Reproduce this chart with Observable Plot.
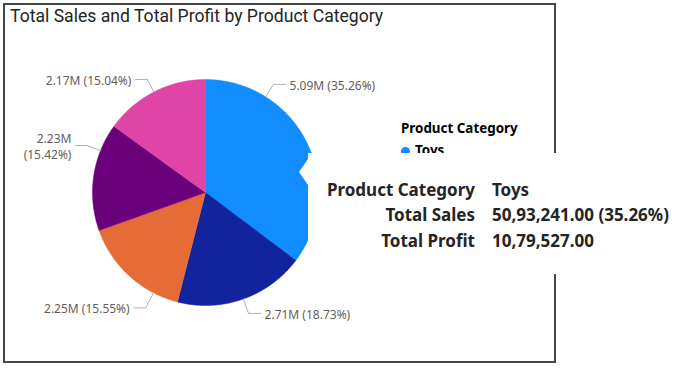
<!DOCTYPE html>
<html>
<head>
<meta charset="utf-8">
<script src="https://cdn.jsdelivr.net/npm/d3@7"></script>
<script src="https://cdn.jsdelivr.net/npm/@observablehq/plot@0.6"></script>
<style>
  html, body { margin: 0; padding: 0; background: #fff; }
  #wrap { position: relative; width: 682px; height: 368px; overflow: hidden; font-family: "Segoe UI", "Noto Sans", sans-serif; color: #252423; }
  #frame { position: absolute; left: 3px; top: 3px; width: 553px; height: 360px; box-sizing: border-box; border: 2px solid #474747; }
  #chart { position: absolute; left: 0; top: 0; }
  #title { position: absolute; left: 10px; top: 6px; font-family: Roboto, sans-serif; font-size: 17.6px; line-height: 20px; color: #252423; white-space: nowrap; }
  #legend { position: absolute; left: 401px; top: 120px; font-family: "Noto Sans", sans-serif; }
  #legend .lt { font-size: 13.4px; font-weight: 700; line-height: 16px; color: #000; white-space: nowrap; }
  #legend .li { position: absolute; top: 22px; left: 0; font-size: 13.4px; font-weight: 700; line-height: 16px; white-space: nowrap; color: #000; }
  #legend .dot { display: inline-block; width: 9px; height: 9px; border-radius: 50%; margin-right: 5px; vertical-align: -1px; }
  #tip { position: absolute; left: 308px; top: 153px; width: 380px; height: 121px; background: #fff; font-family: "Noto Sans", sans-serif; font-weight: 700; font-size: 17px; color: #252423; }
  #tipArrow { position: absolute; left: 299px; top: 159px; width: 0; height: 0; border-top: 13px solid transparent; border-bottom: 13px solid transparent; border-right: 9px solid #fff; }
  #tip .row { position: absolute; left: 0; width: 380px; height: 22px; line-height: 22px; white-space: nowrap; }
  #tip .k { position: absolute; right: 213px; text-align: right; }
  #tip .v { position: absolute; left: 184px; }
</style>
</head>
<body>
<div id="wrap">
  <div id="frame"></div>
  <div id="chart"></div>
  <div id="title"></div>
  <div id="legend"></div>
  <div id="tipArrow"></div>
  <div id="tip"></div>
</div>
<script>
// ---------- data ----------
const titleText = "Total Sales and Total Profit by Product Category";
const legendTitle = "Product Category";
const categories = ["Toys", "Electronics", "Clothing", "Home & Kitchen", "Sports"];
const sales = [5093241, 2705514, 2246168, 2227390, 2172500];
const colors = ["#118DFF", "#12239E", "#E66C37", "#6B007B", "#E044A7"];
const tipCategory = "Toys";
const tipProfit = 1079527;
const tipKeys = ["Product Category", "Total Sales", "Total Profit"];

// ---------- layout (label placement, as chosen by the original renderer) ----------
const labelAngle = [32.2, 160.4, 207.4, 291.7, 332.8];   // degrees clockwise from 12 o'clock
const labelRadius = [1.13, 1.136, 1.15, 1.124, 1.124];   // elbow radius in pie radii
const labelWrap = [false, false, false, true, false];

const W = 682, H = 368, cx = 205, cy = 192, R = 113;

const total = d3.sum(sales);
const fmtM = v => (v / 1e6).toFixed(2) + "M";
const fmtPct = v => (v / total * 100).toFixed(2) + "%";
function fmtIN(n) {
  const [intPart, dec] = n.toFixed(2).split(".");
  let last3 = intPart.slice(-3);
  let rest = intPart.slice(0, -3);
  if (rest) last3 = "," + last3;
  rest = rest.replace(/\B(?=(\d{2})+(?!\d))/g, ",");
  return rest + last3 + "." + dec;
}

// slices
const arcs = d3.pie().sort(null).value(d => d)(sales);
const slicePts = [];
arcs.forEach((a, i) => {
  const cat = categories[i];
  slicePts.push({cat, x: 0, y: 0});
  const n = Math.max(2, Math.ceil((a.endAngle - a.startAngle) / (Math.PI / 360)));
  for (let k = 0; k <= n; k++) {
    const t = a.startAngle + (a.endAngle - a.startAngle) * k / n;
    slicePts.push({cat, x: Math.sin(t), y: Math.cos(t)});
  }
  slicePts.push({cat, x: 0, y: 0});
});

// leader lines + labels
const leaderPts = [];
const labels = [];
categories.forEach((cat, i) => {
  const t = labelAngle[i] * Math.PI / 180;
  const r = labelRadius[i];
  const dir = Math.sin(t) >= 0 ? 1 : -1;
  const ex = r * Math.sin(t), ey = r * Math.cos(t);
  const hx = ex + dir * 12 / R;
  leaderPts.push({cat, x: Math.sin(t), y: Math.cos(t)});
  leaderPts.push({cat, x: ex, y: ey});
  leaderPts.push({cat, x: hx, y: ey});
  const sep = labelWrap[i] ? "\n" : " ";
  labels.push({cat, x: hx, y: ey, dir, text: fmtM(sales[i]) + sep + "(" + fmtPct(sales[i]) + ")"});
});

const plot = Plot.plot({
  width: W,
  height: H,
  margin: 0,
  style: {background: "transparent", overflow: "visible"},
  x: {domain: [-cx / R, (W - cx) / R], range: [0, W], axis: null},
  y: {domain: [-(H - cy) / R, cy / R], range: [H, 0], axis: null},
  color: {domain: categories, range: colors},
  marks: [
    Plot.line(slicePts, {x: "x", y: "y", z: "cat", fill: "cat", stroke: "cat", strokeWidth: 0.5, curve: "linear"}),
    Plot.line(leaderPts, {x: "x", y: "y", z: "cat", stroke: "#B3B0AD", strokeWidth: 1}),
    Plot.text(labels.filter(d => d.dir > 0), {x: "x", y: "y", text: "text", textAnchor: "start", dx: 4, fill: "#605E5C", fontSize: 12, fontFamily: "'Segoe UI', 'Noto Sans', sans-serif", lineHeight: 1.35}),
    Plot.text(labels.filter(d => d.dir < 0), {x: "x", y: "y", text: "text", textAnchor: "end", dx: -4, fill: "#605E5C", fontSize: 12, fontFamily: "'Segoe UI', 'Noto Sans', sans-serif", lineHeight: 1.35})
  ]
});
document.getElementById("chart").appendChild(plot);

document.getElementById("title").textContent = titleText;

const lg = document.getElementById("legend");
lg.innerHTML = `<div class="lt"></div><div class="li"><span class="dot"></span><span class="nm"></span></div>`;
lg.querySelector(".lt").textContent = legendTitle;
lg.querySelector(".dot").style.background = colors[0];
lg.querySelector(".nm").textContent = categories[0];

const ti = categories.indexOf(tipCategory);
const tipVals = [tipCategory, fmtIN(sales[ti]) + " (" + fmtPct(sales[ti]) + ")", fmtIN(tipProfit)];
const tip = document.getElementById("tip");
const rowTops = [26, 51, 77];
tipKeys.forEach((k, i) => {
  const row = document.createElement("div");
  row.className = "row";
  row.style.top = rowTops[i] + "px";
  const ke = document.createElement("span"); ke.className = "k"; ke.textContent = k;
  const ve = document.createElement("span"); ve.className = "v"; ve.textContent = tipVals[i];
  row.appendChild(ke); row.appendChild(ve);
  tip.appendChild(row);
});
</script>
</body>
</html>
